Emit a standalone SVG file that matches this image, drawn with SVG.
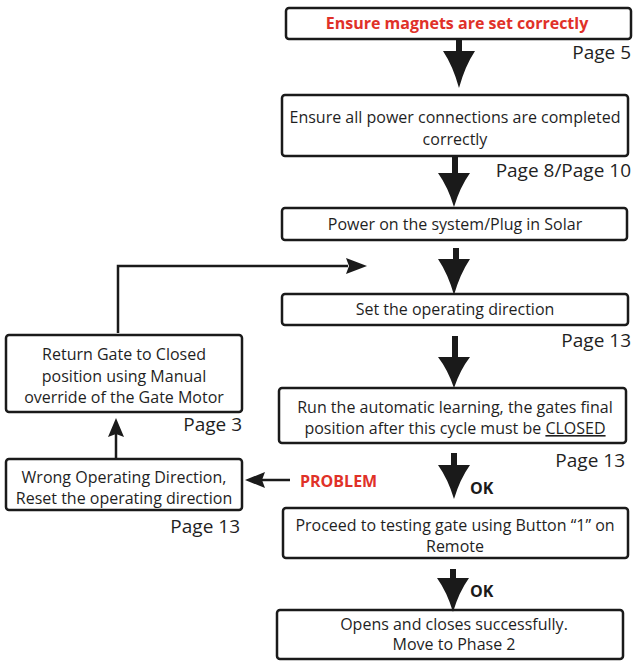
<svg xmlns="http://www.w3.org/2000/svg" width="633" height="663" viewBox="0 0 633 663">
<defs>
<style>
.box{fill:#fff;stroke:#1a1a1a;stroke-width:2.5}
.t{font-family:"Open Sans","Liberation Sans",sans-serif;font-size:16px;fill:#1f1f1f;text-anchor:middle}
.pg{font-family:"Open Sans","Liberation Sans",sans-serif;font-size:19px;fill:#1f1f1f;text-anchor:end}
.red{font-family:"Open Sans","Liberation Sans",sans-serif;font-size:16px;font-weight:bold;fill:#e03128}
.ok{font-family:"Open Sans","Liberation Sans",sans-serif;font-size:16px;font-weight:bold;fill:#1a1a1a}
.shaft{stroke:#1a1a1a;stroke-width:6;fill:none}
.line{stroke:#1a1a1a;stroke-width:2.5;fill:none}
.head{fill:#1a1a1a}
</style>
</defs>

<g id="n1">
<rect class="box" x="286" y="8" width="345" height="31" rx="3"/>
<text class="red" x="457" y="29" text-anchor="middle">Ensure magnets are set correctly</text>
<text class="pg" x="631" y="59">Page 5</text>
</g>

<g id="n2">
<rect class="box" x="282" y="95" width="346" height="61" rx="3"/>
<text class="t" x="455" y="123">Ensure all power connections are completed</text>
<text class="t" x="455" y="145">correctly</text>
<text class="pg" x="631" y="177">Page 8/Page 10</text>
</g>

<g id="n3">
<rect class="box" x="282" y="208" width="345" height="32" rx="3"/>
<text class="t" x="455" y="229.5">Power on the system/Plug in Solar</text>
</g>

<g id="n4">
<rect class="box" x="282" y="294" width="346" height="31" rx="3"/>
<text class="t" x="455" y="315">Set the operating direction</text>
<text class="pg" x="631" y="347">Page 13</text>
</g>

<g id="n5">
<rect class="box" x="279" y="388" width="347" height="55" rx="3"/>
<text class="t" x="455" y="413">Run the automatic learning, the gates final</text>
<text class="t" x="455" y="434">position after this cycle must be <tspan text-decoration="underline">CLOSED</tspan></text>
<text class="pg" x="625" y="467">Page 13</text>
</g>

<g id="n6">
<rect class="box" x="283" y="508" width="345" height="50" rx="3"/>
<text class="t" x="455" y="531">Proceed to testing gate using Button “1” on</text>
<text class="t" x="455" y="552">Remote</text>
</g>

<g id="n7">
<rect class="box" x="277" y="610" width="346" height="49" rx="3"/>
<text class="t" x="454" y="630">Opens and closes successfully.</text>
<text class="t" x="454" y="650">Move to Phase 2</text>
</g>

<g id="n8">
<rect class="box" x="6" y="335" width="236" height="77" rx="3"/>
<text class="t" x="124" y="360">Return Gate to Closed</text>
<text class="t" x="124" y="382">position using Manual</text>
<text class="t" x="124" y="403">override of the Gate Motor</text>
<text class="pg" x="242" y="431">Page 3</text>
</g>

<g id="n9">
<rect class="box" x="6" y="459" width="236" height="51" rx="3"/>
<text class="t" x="124" y="483">Wrong Operating Direction,</text>
<text class="t" x="124" y="504">Reset the operating direction</text>
<text class="pg" x="240" y="533">Page 13</text>
</g>

<g id="connectors">
<line class="shaft" x1="459" y1="39" x2="459" y2="54"/>
<path class="head" d="M443,51 L475,51 Q465,66 459,88 Q453,66 443,51 Z"/>

<line class="shaft" x1="455" y1="156" x2="455" y2="176"/>
<path class="head" d="M438,173 L470,173 Q460,187 454,207 Q448,187 438,173 Z"/>

<line class="shaft" x1="456" y1="248" x2="456" y2="262"/>
<path class="head" d="M438,259 L470,259 Q460,274 454,295 Q448,274 438,259 Z"/>

<line class="shaft" x1="455" y1="336" x2="455" y2="360"/>
<path class="head" d="M438,357 L470,357 Q460,370 454,388 Q448,370 438,357 Z"/>

<line class="shaft" x1="454" y1="453" x2="454" y2="468"/>
<path class="head" d="M438,465 L470,465 Q460,479 454,499 Q448,479 438,465 Z"/>
<text class="ok" x="470" y="494">OK</text>

<line class="shaft" x1="453" y1="569" x2="453" y2="581"/>
<path class="head" d="M437,578 L469,578 Q459,592 453,612 Q447,592 437,578 Z"/>
<text class="ok" x="470" y="597">OK</text>

<path class="line" d="M118,333 L118,266 L348,266"/>
<path class="head" d="M346,258 L367,266 L346,274 L349,266 Z"/>

<line class="line" x1="116" y1="459" x2="116" y2="434"/>
<path class="head" d="M108,437 L116,418 L124,437 L116,434 Z"/>

<line class="line" x1="290" y1="480" x2="262" y2="480"/>
<path class="head" d="M265,472 L245,480 L265,488 L262,480 Z"/>
<text class="red" x="300" y="487">PROBLEM</text>
</g>
</svg>
